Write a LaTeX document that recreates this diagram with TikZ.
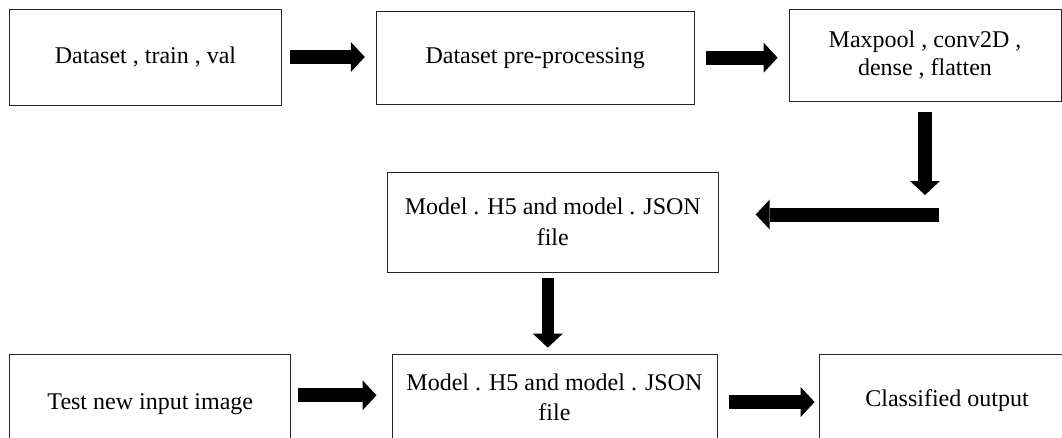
\documentclass[tikz,border=0pt]{standalone}
\usepackage{fontspec}
\setmainfont{Liberation Serif}
\usepackage{tikz}
\usetikzlibrary{arrows.meta}
\tikzset{
    block/.style={draw=black!85,line width=0.8pt,align=center,inner sep=0pt,font=\fontsize{24}{28}\selectfont},
    wide/.style={font=\fontsize{24}{30.5}\selectfont},
    fatarrow/.style={line width=14pt,-{Triangle[width=30pt,length=14pt,line width=0pt]}}
}

\begin{document}
\begin{tikzpicture}[x=1pt,y=-1pt]
                            \useasboundingbox (0,0) rectangle (1062,437);
                            \node[block,minimum width=272pt,minimum height=96pt] (data) at (145.5,57) {Dataset , train , val};
                            \node[block,minimum width=318pt,minimum height=93pt] (prep) at (535.2,57.7) {Dataset pre-processing};
                            \node[block,minimum width=272pt,minimum height=92pt] (layers) at (925,55.2) {Maxpool , conv2D ,\\ dense , flatten};
                            \node[block,wide,minimum width=331pt,minimum height=100pt] (model) at (552.8,222) {Model . H5 and model . JSON\\ file};
                            \node[block,minimum width=281pt,minimum height=100pt] (test) at (150.3,404.3) {Test new input image};
                            \node[block,wide,minimum width=325pt,minimum height=87pt] (predict) at (554.4,397.5) {Model . H5 and model . JSON\\ file};
                            \node[block,minimum width=256pt,minimum height=94pt] (output) at (947,401) {Classified output};
                            \coordinate (turn) at (925,195);
                            \coordinate (back) at (939,214.5);
                            \draw[fatarrow,shorten <=8pt,shorten >=11pt] (data.east) -- (data.east -| prep.west);
                            \draw[fatarrow,shorten <=11pt,shorten >=11pt] (prep.east) -- (prep.east -| layers.west);
                            \draw[fatarrow,shorten <=10pt] (layers.south) -- (turn);
                            \draw[fatarrow,shorten >=37pt] (back) -- (back -| model.east);
                            \draw[fatarrow,line width=12pt,shorten <=6pt,shorten >=6pt] ([xshift=-5pt]model.south) -- ([xshift=-5pt]model.south |- predict.north);
                            \draw[fatarrow,shorten <=7pt,shorten >=15pt] ([yshift=9pt]test.east) -- ([yshift=9pt]test.east -| predict.west);
                            \draw[fatarrow,shorten <=12pt,shorten >=4pt] ([yshift=-4.5pt]predict.east) -- ([yshift=-4.5pt]predict.east -| output.west);
                        \end{tikzpicture}
\end{document}
